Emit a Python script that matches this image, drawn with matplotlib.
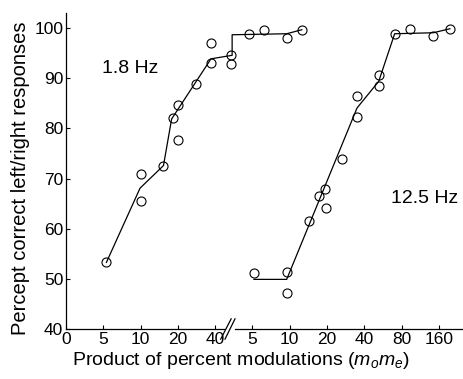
import matplotlib.pyplot as plt

plt.rcParams["font.family"] = ["Liberation Sans", "DejaVu Sans"]
plt.rcParams["mathtext.fontset"] = "custom"
plt.rcParams["mathtext.it"] = "Liberation Sans:italic"
plt.rcParams["mathtext.rm"] = "Liberation Sans"

# 1.8 Hz data (x in percent-modulation product)
hz18_x = [5.3, 10.0, 10.0, 15.3, 18.2, 20.1, 20.1, 28, 37, 37, 54, 54, 74.6, 99, 151, 200]
hz18_y = [53.3, 70.9, 65.5, 72.6, 82.1, 84.6, 77.8, 88.9, 97.1, 93.1, 94.6, 92.9, 98.8, 99.7, 98.1, 99.7]
hz18_fit_x = [5.3, 9.9, 15.3, 17.8, 37, 54.8, 54.8, 151, 200]
hz18_fit_y = [53.3, 68.1, 72.6, 81.9, 93.9, 94.6, 98.7, 98.9, 99.7]

# 12.5 Hz data (plotted on the right-hand segment of the broken axis)
hz125_x = [5.14, 9.44, 9.44, 14.4, 17.3, 19.5, 19.3, 26.5, 34.9, 34.9, 52.2, 52.2, 70.2, 93.4, 144, 196]
hz125_y = [51.1, 51.3, 47.1, 61.5, 66.6, 64.1, 67.9, 73.9, 82.3, 86.5, 88.5, 90.6, 98.9, 99.9, 98.5, 99.9]
hz125_fit_x = [5.14, 9.44, 34.9, 52.2, 70.2, 144, 196]
hz125_fit_y = [49.9, 49.9, 84.1, 89.4, 98.9, 99.1, 99.9]

left_ticks = [2.5, 5, 10, 20, 40]
left_labels = ["0", "5", "10", "20", "40"]
right_ticks = [5, 10, 20, 40, 80, 160]
right_labels = ["5", "10", "20", "40", "80", "160"]
y_ticks = [40, 50, 60, 70, 80, 90, 100]

SHIFT = 16  # right segment offset (axis break)

fig = plt.figure(figsize=(4.64, 3.79), dpi=100)
ax = fig.add_axes([66 / 464, 50 / 379, 398 / 464, 316.3 / 379])
ax.set_xscale("log", base=2)

mk = dict(marker="o", ms=6.5, mfc="none", mec="black", mew=0.8, ls="none")
ax.plot(hz18_fit_x, hz18_fit_y, color="black", lw=0.9)
ax.plot(hz18_x, hz18_y, **mk)
ax.plot([x * SHIFT for x in hz125_fit_x], hz125_fit_y, color="black", lw=0.9)
ax.plot([x * SHIFT for x in hz125_x], hz125_y, **mk)

ax.text(4.9, 92, "1.8 Hz", fontsize=14, ha="left", va="center")
ax.text(65 * SHIFT, 66, "12.5 Hz", fontsize=14, ha="left", va="center")

ax.set_xlim(2.5, 4075)
ax.set_ylim(40, 103.1)

ax.set_xticks(left_ticks + [t * SHIFT for t in right_ticks])
ax.set_xticklabels(left_labels + right_labels)
ax.xaxis.set_minor_locator(plt.NullLocator())
ax.set_yticks(y_ticks)

ax.tick_params(axis="both", direction="in", length=3, width=0.8, labelsize=12.5, pad=2)

for s in ["top", "right", "bottom"]:
    ax.spines[s].set_visible(False)
ax.spines["left"].set_linewidth(0.9)

# broken bottom axis with // marks
tr = ax.get_xaxis_transform()
ax.plot([2.5, 47.1], [0, 0], color="black", lw=0.9, transform=tr, clip_on=False)
ax.plot([57.8, 4075], [0, 0], color="black", lw=0.9, transform=tr, clip_on=False)
ax.plot([44.3, 53.8], [-0.032, 0.032], color="black", lw=0.9, transform=tr, clip_on=False)
ax.plot([48.0, 57.8], [-0.032, 0.032], color="black", lw=0.9, transform=tr, clip_on=False)

ax.set_xlabel("Product of percent modulations ($m_o m_e$)", fontsize=14, labelpad=2)
ax.set_ylabel("Percept correct left/right responses", fontsize=14.5, labelpad=3)
ax.xaxis.label.set_x(0.44)
ax.yaxis.label.set_y(0.477)

fig.savefig("out.png", dpi=100)
